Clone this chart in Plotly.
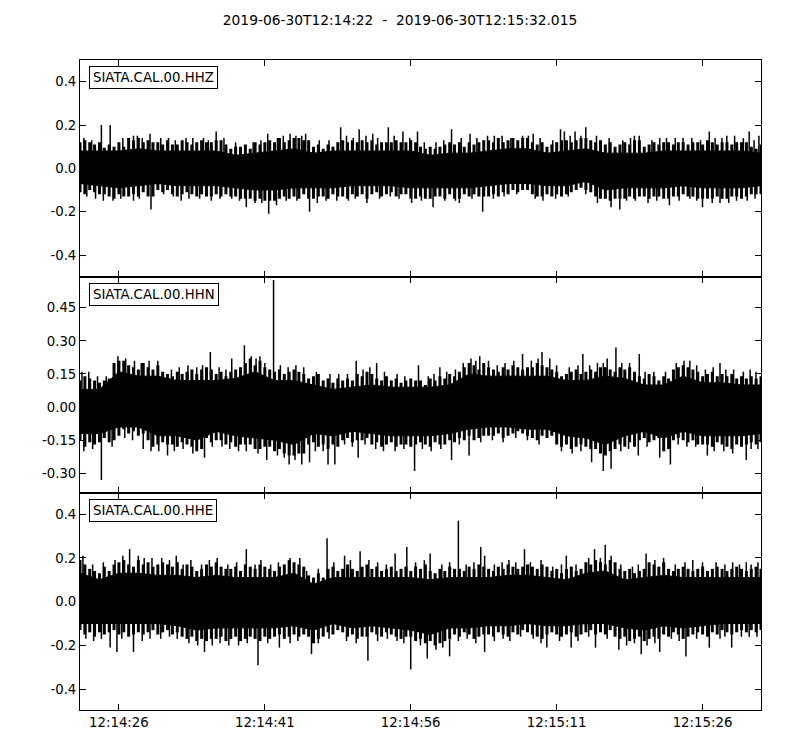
import numpy as np
import pandas as pd
import plotly.graph_objects as go
from plotly.subplots import make_subplots

start_time = "2019-06-30 12:14:22"
duration_s = 70.015
title_text = "2019-06-30T12:14:22  -  2019-06-30T12:15:32.015"
channels = ["SIATA.CAL.00.HHZ", "SIATA.CAL.00.HHN", "SIATA.CAL.00.HHE"]

# ---- solid core of the trace band, read every 2 s ----
hhz_core_hi = [0.08,0.08,0.08,0.09,0.08,0.08,0.08,0.08,0.06,0.07,0.08,0.09,0.07,0.08,0.08,0.08,0.08,0.08,
               0.06,0.07,0.07,0.08,0.09,0.09,0.07,0.08,0.09,0.07,0.07,0.07,0.08,0.08,0.08,0.08,0.08,0.07]
hhz_core_lo = [-0.07,-0.08,-0.09,-0.08,-0.07,-0.08,-0.08,-0.08,-0.09,-0.10,-0.10,-0.09,-0.09,-0.09,-0.08,-0.08,-0.08,-0.09,
               -0.09,-0.09,-0.09,-0.08,-0.07,-0.07,-0.08,-0.08,-0.06,-0.10,-0.09,-0.09,-0.09,-0.08,-0.09,-0.09,-0.09,-0.08]
hhn_core_hi = [0.08,0.08,0.16,0.14,0.14,0.12,0.12,0.12,0.13,0.16,0.12,0.12,0.10,0.08,0.09,0.10,0.09,0.09,
               0.09,0.10,0.15,0.14,0.14,0.14,0.14,0.12,0.12,0.14,0.13,0.10,0.10,0.14,0.11,0.11,0.10,0.10]
hhn_core_lo = [-0.12,-0.12,-0.09,-0.09,-0.13,-0.13,-0.15,-0.11,-0.13,-0.14,-0.15,-0.17,-0.12,-0.13,-0.11,-0.12,-0.13,-0.13,
               -0.13,-0.12,-0.10,-0.09,-0.09,-0.10,-0.10,-0.13,-0.14,-0.17,-0.13,-0.11,-0.14,-0.11,-0.13,-0.13,-0.13,-0.12]
hhe_core_hi = [0.13,0.10,0.13,0.13,0.12,0.12,0.11,0.12,0.11,0.11,0.11,0.13,0.08,0.11,0.11,0.11,0.11,0.11,
               0.10,0.11,0.11,0.11,0.12,0.12,0.11,0.10,0.13,0.14,0.10,0.11,0.12,0.11,0.11,0.11,0.11,0.11]
hhe_core_lo = [-0.10,-0.10,-0.10,-0.10,-0.10,-0.11,-0.13,-0.12,-0.12,-0.12,-0.12,-0.11,-0.13,-0.10,-0.12,-0.11,-0.12,-0.13,
               -0.15,-0.12,-0.12,-0.11,-0.11,-0.10,-0.11,-0.11,-0.10,-0.10,-0.12,-0.13,-0.11,-0.12,-0.11,-0.10,-0.10,-0.10]

# ---- outer edge of the dense spiking, read every ~0.5 s ----
hhz_upper = [0.12,0.13,0.12,0.11,0.12,0.095,0.11,0.10,0.12,0.10,
             0.14,0.13,0.14,0.12,0.13,0.12,0.12,0.11,0.13,0.11,
             0.11,0.13,0.12,0.11,0.12,0.13,0.12,0.12,0.13,0.13,
             0.11,0.09,0.10,0.10,0.11,0.09,0.12,0.11,0.12,0.13,
             0.12,0.14,0.12,0.13,0.14,0.14,0.13,
             0.13,0.10,0.11,0.09,0.11,0.10,0.12,0.13,0.12,0.13,
             0.12,0.13,0.12,0.13,0.11,0.12,0.12,0.12,0.13,0.12,
             0.12,0.13,0.12,0.10,0.09,0.10,0.09,0.10,0.11,0.12,
             0.11,0.12,0.10,0.12,0.11,0.12,0.13,0.13,0.12,0.14,
             0.12,0.13,0.14,0.13,0.14,0.14,
             0.12,0.11,0.12,0.10,0.11,0.12,0.13,0.13,0.12,0.13,
             0.14,0.14,0.13,0.12,0.13,0.11,0.12,0.10,0.11,0.12,
             0.11,0.13,0.13,0.10,0.11,0.12,0.11,0.12,0.12,0.11,
             0.12,0.12,0.11,0.12,0.12,0.11,0.13,0.12,0.11,0.12,
             0.12,0.11,0.12,0.12,0.12,0.10,0.09,0.11]
hhz_lower = [-0.11,-0.12,-0.10,-0.11,-0.12,-0.12,-0.13,-0.14,-0.12,-0.13,
             -0.13,-0.12,-0.13,-0.11,-0.13,-0.13,-0.10,-0.11,-0.10,-0.12,
             -0.13,-0.12,-0.11,-0.12,-0.13,-0.12,-0.13,-0.13,-0.12,-0.13,
             -0.12,-0.13,-0.13,-0.14,-0.14,-0.14,-0.15,-0.14,-0.15,-0.15,
             -0.15,-0.14,-0.13,-0.14,-0.13,-0.14,-0.12,
             -0.14,-0.14,-0.13,-0.13,-0.14,-0.12,-0.13,-0.13,-0.14,-0.12,
             -0.13,-0.12,-0.14,-0.12,-0.11,-0.13,-0.12,-0.11,-0.13,-0.12,
             -0.12,-0.14,-0.14,-0.13,-0.14,-0.14,-0.13,-0.13,-0.14,-0.12,
             -0.14,-0.14,-0.12,-0.13,-0.12,-0.13,-0.13,-0.13,-0.12,-0.13,
             -0.11,-0.12,-0.10,-0.11,-0.10,-0.10,
             -0.12,-0.13,-0.13,-0.12,-0.13,-0.12,-0.13,-0.12,-0.11,-0.10,
             -0.09,-0.10,-0.11,-0.13,-0.14,-0.14,-0.15,-0.14,-0.14,-0.14,
             -0.13,-0.14,-0.13,-0.13,-0.14,-0.13,-0.13,-0.14,-0.14,-0.13,
             -0.13,-0.12,-0.13,-0.13,-0.14,-0.14,-0.14,-0.14,-0.13,-0.14,
             -0.14,-0.13,-0.13,-0.14,-0.13,-0.12,-0.12,-0.12]

hhn_upper = [0.12,0.14,0.13,0.12,0.11,0.12,0.13,0.20,0.21,0.21,
             0.19,0.18,0.17,0.20,0.18,0.17,0.19,0.16,0.15,0.14,
             0.16,0.15,0.16,0.17,0.15,0.17,0.18,0.17,0.15,0.16,
             0.14,0.16,0.17,0.18,0.20,0.22,0.19,0.21,0.18,0.17,
             0.16,0.17,0.15,0.16,0.17,0.16,0.15,
             0.13,0.14,0.15,0.12,0.13,0.11,0.13,0.12,0.13,0.12,
             0.15,0.14,0.16,0.15,0.13,0.12,0.14,0.12,0.13,0.11,
             0.12,0.13,0.12,0.12,0.10,0.13,0.12,0.14,0.13,0.15,
             0.14,0.16,0.18,0.20,0.19,0.17,0.20,0.18,0.17,0.16,
             0.18,0.17,0.19,0.18,0.17,0.18,
             0.18,0.20,0.19,0.18,0.17,0.16,0.14,0.15,0.16,0.17,
             0.15,0.16,0.17,0.16,0.18,0.18,0.17,0.16,0.18,0.17,
             0.18,0.16,0.14,0.13,0.15,0.14,0.12,0.14,0.13,0.17,
             0.18,0.19,0.18,0.17,0.16,0.14,0.15,0.16,0.14,0.15,
             0.14,0.15,0.13,0.14,0.13,0.14,0.13,0.14]
hhn_lower = [-0.15,-0.18,-0.16,-0.17,-0.16,-0.14,-0.16,-0.15,-0.13,-0.10,
             -0.12,-0.11,-0.13,-0.12,-0.15,-0.18,-0.17,-0.16,-0.17,-0.17,
             -0.18,-0.16,-0.17,-0.18,-0.20,-0.19,-0.14,-0.16,-0.15,-0.15,
             -0.17,-0.16,-0.18,-0.17,-0.17,-0.17,-0.19,-0.19,-0.18,-0.18,
             -0.20,-0.19,-0.21,-0.22,-0.22,-0.21,-0.21,
             -0.17,-0.16,-0.18,-0.17,-0.19,-0.17,-0.18,-0.15,-0.14,-0.16,
             -0.15,-0.15,-0.14,-0.17,-0.16,-0.18,-0.17,-0.16,-0.18,-0.17,
             -0.17,-0.18,-0.17,-0.16,-0.17,-0.18,-0.16,-0.17,-0.17,-0.15,
             -0.16,-0.14,-0.15,-0.13,-0.15,-0.14,-0.13,-0.13,-0.13,-0.12,
             -0.14,-0.13,-0.12,-0.11,-0.12,-0.13,
             -0.14,-0.15,-0.13,-0.14,-0.13,-0.17,-0.18,-0.17,-0.19,-0.18,
             -0.17,-0.18,-0.19,-0.19,-0.21,-0.22,-0.20,-0.19,-0.17,-0.18,
             -0.16,-0.18,-0.15,-0.14,-0.16,-0.15,-0.14,-0.20,-0.19,-0.15,
             -0.14,-0.15,-0.16,-0.15,-0.17,-0.17,-0.17,-0.18,-0.16,-0.17,
             -0.18,-0.19,-0.17,-0.18,-0.17,-0.16,-0.17,-0.16]

hhe_upper = [0.19,0.17,0.15,0.14,0.13,0.16,0.14,0.17,0.18,0.19,
             0.17,0.16,0.19,0.17,0.18,0.16,0.17,0.18,0.17,0.16,
             0.18,0.15,0.17,0.16,0.14,0.15,0.17,0.16,0.18,0.16,
             0.15,0.15,0.16,0.14,0.17,0.16,0.15,0.17,0.16,0.15,
             0.14,0.16,0.17,0.19,0.18,0.17,0.16,
             0.12,0.11,0.13,0.11,0.15,0.16,0.14,0.15,0.17,0.15,
             0.14,0.16,0.17,0.15,0.16,0.14,0.15,0.16,0.14,0.15,
             0.16,0.14,0.16,0.15,0.17,0.14,0.13,0.15,0.14,0.16,
             0.15,0.15,0.14,0.16,0.15,0.17,0.16,0.15,0.14,0.16,
             0.15,0.17,0.16,0.15,0.16,0.17,
             0.16,0.15,0.17,0.16,0.14,0.15,0.13,0.15,0.16,0.14,
             0.15,0.18,0.17,0.19,0.18,0.17,0.19,0.18,0.15,0.14,
             0.15,0.13,0.14,0.15,0.18,0.17,0.16,0.18,0.15,0.14,
             0.15,0.16,0.15,0.14,0.15,0.16,0.14,0.15,0.16,0.15,
             0.14,0.15,0.16,0.15,0.14,0.15,0.16,0.15]
hhe_lower = [-0.13,-0.15,-0.14,-0.16,-0.14,-0.15,-0.14,-0.13,-0.15,-0.14,
             -0.16,-0.15,-0.14,-0.15,-0.14,-0.13,-0.15,-0.14,-0.13,-0.15,
             -0.14,-0.16,-0.17,-0.16,-0.18,-0.17,-0.18,-0.17,-0.17,-0.16,
             -0.18,-0.17,-0.16,-0.18,-0.17,-0.16,-0.17,-0.18,-0.16,-0.17,
             -0.16,-0.15,-0.17,-0.16,-0.15,-0.16,-0.15,
             -0.16,-0.19,-0.17,-0.16,-0.14,-0.15,-0.13,-0.14,-0.16,-0.15,
             -0.17,-0.16,-0.16,-0.14,-0.15,-0.16,-0.14,-0.15,-0.16,-0.17,
             -0.16,-0.16,-0.18,-0.17,-0.19,-0.18,-0.20,-0.19,-0.18,-0.17,
             -0.15,-0.16,-0.14,-0.15,-0.17,-0.16,-0.15,-0.15,-0.16,-0.14,
             -0.15,-0.16,-0.14,-0.15,-0.13,-0.14,
             -0.15,-0.16,-0.17,-0.15,-0.14,-0.15,-0.16,-0.15,-0.14,-0.16,
             -0.15,-0.14,-0.13,-0.15,-0.14,-0.15,-0.13,-0.16,-0.17,-0.16,
             -0.18,-0.17,-0.16,-0.18,-0.17,-0.16,-0.17,-0.15,-0.16,-0.14,
             -0.15,-0.17,-0.16,-0.15,-0.14,-0.15,-0.16,-0.14,-0.15,-0.13,
             -0.14,-0.15,-0.14,-0.13,-0.14,-0.13,-0.14,-0.13]

# ---- prominent individual spikes: seconds after start, amplitude ----
hhz_up_t = [2.2, 3.1, 5.5, 7.2, 10.9, 12.7, 14.0, 19.3, 21.6, 22.8, 26.8, 28.7, 30.1, 31.7, 33.2, 34.7,
            38.2, 40.1, 41.9, 45.5, 46.6, 49.4, 49.8, 50.9, 52.0, 57.5, 60.3, 62.0, 64.7, 66.5, 68.8, 69.8]
hhz_up_v = [0.20, 0.20, 0.15, 0.16, 0.14, 0.14, 0.17, 0.16, 0.16, 0.15, 0.19, 0.18, 0.16, 0.19, 0.17, 0.17,
            0.18, 0.16, 0.15, 0.15, 0.16, 0.18, 0.17, 0.17, 0.19, 0.15, 0.14, 0.14, 0.17, 0.15, 0.17, 0.15]
hhz_dn_t = [2.4, 5.5, 7.3, 10.4, 13.5, 17.1, 19.4, 20.2, 23.6, 27.6, 29.5, 34.1, 36.3, 39.0, 41.4,
            47.6, 53.2, 54.6, 55.5, 60.6, 64.0, 65.8, 68.6]
hhz_dn_v = [-0.15, -0.15, -0.19, -0.15, -0.15, -0.18, -0.21, -0.17, -0.20, -0.15, -0.16, -0.16, -0.18, -0.16, -0.20,
            -0.15, -0.16, -0.18, -0.19, -0.17, -0.18, -0.16, -0.15]

hhn_up_t = [0.2, 0.9, 3.9, 13.4, 15.6, 16.9, 18.5, 19.9, 28.4, 30.5, 34.8, 37.0, 40.2, 41.1, 45.5,
            47.5, 48.3, 51.7, 54.2, 55.1, 57.5, 62.7, 65.8, 68.9]
hhn_up_v = [0.16, 0.16, 0.23, 0.25, 0.22, 0.28, 0.23, 0.576, 0.21, 0.20, 0.19, 0.18, 0.22, 0.23, 0.24,
            0.25, 0.22, 0.24, 0.22, 0.27, 0.24, 0.21, 0.20, 0.17]
hhn_dn_t = [2.2, 6.5, 9.0, 12.8, 19.2, 21.5, 22.8, 23.6, 25.5, 26.2, 28.6, 34.4, 38.2, 40.0,
            52.6, 53.8, 54.6, 57.4, 59.6, 60.7, 64.5, 68.5]
hhn_dn_v = [-0.33, -0.19, -0.22, -0.23, -0.24, -0.26, -0.26, -0.25, -0.26, -0.26, -0.23, -0.29, -0.24, -0.22,
            -0.25, -0.29, -0.28, -0.22, -0.23, -0.26, -0.22, -0.24]

hhe_up_t = [5.1, 6.0, 9.9, 17.1, 21.6, 22.6, 25.4, 27.2, 28.8, 32.4, 33.6, 36.0, 38.9, 41.2, 41.6,
            45.7, 50.0, 52.9, 54.0, 58.2, 63.0, 67.1, 68.5]
hhe_up_v = [0.24, 0.21, 0.21, 0.24, 0.20, 0.20, 0.29, 0.21, 0.23, 0.22, 0.25, 0.22, 0.37, 0.25, 0.21,
            0.24, 0.21, 0.24, 0.26, 0.22, 0.19, 0.18, 0.18]
hhe_dn_t = [3.1, 3.8, 5.5, 12.8, 18.3, 20.5, 23.8, 29.6, 34.0, 35.7, 38.0, 41.6, 48.0, 50.5, 53.0,
            55.4, 57.7, 59.6, 62.3, 64.7, 67.0]
hhe_dn_v = [-0.21, -0.23, -0.23, -0.23, -0.29, -0.21, -0.24, -0.27, -0.31, -0.26, -0.25, -0.23, -0.21, -0.21, -0.21,
            -0.22, -0.24, -0.23, -0.25, -0.21, -0.21]

# ---- smaller fringe spikes along the band edges ----
hhz_fu_t = [0.4, 1.2, 4.4, 5.9, 6.4, 8.3, 9.1, 9.8, 11.6, 13.2, 14.8, 16.0, 17.8, 18.6, 20.3, 20.9, 22.2, 23.2,
            24.6, 25.6, 27.4, 28.1, 29.4, 30.6, 32.3, 33.9, 35.4, 36.6, 37.4, 39.2, 40.8, 42.6, 43.4, 44.3,
            46.1, 47.3, 48.6, 50.4, 51.5, 53.1, 54.4, 55.8, 56.6, 57.0, 58.8, 59.6, 61.2, 62.9, 63.8, 65.3,
            66.0, 67.3, 68.2, 69.3]
hhz_fu_v = [0.14, 0.13, 0.14, 0.15, 0.14, 0.14, 0.14, 0.13, 0.14, 0.13, 0.14, 0.12, 0.12, 0.13, 0.14, 0.15, 0.15, 0.16,
            0.13, 0.13, 0.15, 0.14, 0.15, 0.14, 0.15, 0.14, 0.12, 0.12, 0.13, 0.14, 0.14, 0.15, 0.15, 0.14,
            0.15, 0.14, 0.13, 0.15, 0.15, 0.15, 0.14, 0.13, 0.14, 0.15, 0.13, 0.14, 0.14, 0.14, 0.13, 0.14,
            0.14, 0.15, 0.14, 0.13]
hhz_fd_t = [0.7, 1.6, 3.4, 4.2, 6.1, 8.6, 9.6, 11.2, 12.3, 14.4, 15.6, 16.4, 18.0, 18.7, 21.2, 22.3, 24.4, 25.3,
            26.4, 28.3, 30.8, 31.9, 32.8, 35.1, 37.5, 38.6, 40.3, 42.5, 43.6, 44.9, 46.8, 48.9, 50.2, 52.0,
            56.2, 57.1, 58.4, 59.3, 61.6, 62.7, 63.4, 65.0, 66.7, 67.5, 69.4]
hhz_fd_v = [-0.13, -0.14, -0.15, -0.14, -0.14, -0.12, -0.13, -0.14, -0.14, -0.14, -0.14, -0.15, -0.16, -0.16, -0.15,
            -0.15, -0.16, -0.15, -0.15, -0.14, -0.14, -0.13, -0.14, -0.15, -0.15, -0.15, -0.14, -0.14, -0.13, -0.12,
            -0.14, -0.14, -0.13, -0.12, -0.15, -0.15, -0.16, -0.15, -0.15, -0.14, -0.15, -0.16, -0.16, -0.15, -0.14]

hhn_fu_t = [1.8, 2.7, 4.7, 5.6, 6.3, 7.1, 8.0, 9.4, 10.2, 11.1, 12.0, 12.6, 14.3, 15.0, 17.6, 18.1, 19.0, 20.6,
            21.4, 22.2, 23.0, 24.3, 25.7, 26.6, 27.5, 29.1, 29.8, 31.3, 32.6, 33.4, 35.8, 36.4, 37.7, 38.6,
            39.4, 40.7, 42.0, 42.9, 43.7, 44.6, 46.4, 47.1, 49.0, 50.3, 51.2, 52.4, 53.2, 53.8, 55.7, 56.5,
            58.1, 59.0, 60.2, 61.3, 62.1, 63.4, 64.3, 65.1, 66.4, 67.2, 68.2, 69.5]
hhn_fu_v = [0.14, 0.14, 0.22, 0.21, 0.20, 0.21, 0.21, 0.17, 0.18, 0.19, 0.18, 0.19, 0.18, 0.17, 0.23, 0.22, 0.20, 0.19,
            0.18, 0.19, 0.18, 0.16, 0.15, 0.15, 0.15, 0.17, 0.18, 0.16, 0.15, 0.14, 0.14, 0.15, 0.16, 0.17,
            0.20, 0.21, 0.21, 0.19, 0.20, 0.21, 0.21, 0.22, 0.19, 0.18, 0.19, 0.19, 0.20, 0.20, 0.20, 0.20,
            0.16, 0.16, 0.16, 0.20, 0.21, 0.19, 0.17, 0.18, 0.17, 0.17, 0.16, 0.16]
hhn_fd_t = [0.4, 1.3, 3.3, 4.6, 5.4, 7.3, 8.1, 9.7, 10.6, 11.6, 13.6, 14.6, 15.4, 16.3, 17.1, 18.3, 20.3, 21.0,
            22.1, 24.2, 25.0, 27.2, 28.0, 29.3, 30.4, 31.2, 32.4, 33.3, 35.2, 36.1, 37.1, 39.0, 41.2, 42.4,
            43.5, 44.8, 46.0, 47.2, 49.5, 50.6, 51.5, 55.6, 56.4, 58.3, 61.5, 62.4, 63.3, 65.2, 66.2, 67.1,
            69.0, 69.7]
hhn_fd_v = [-0.20, -0.19, -0.18, -0.14, -0.15, -0.20, -0.20, -0.20, -0.19, -0.21, -0.18, -0.18, -0.19, -0.20, -0.20,
            -0.21, -0.22, -0.23, -0.24, -0.20, -0.20, -0.17, -0.18, -0.17, -0.19, -0.20, -0.20, -0.19, -0.19, -0.20,
            -0.19, -0.17, -0.16, -0.15, -0.16, -0.14, -0.15, -0.17, -0.20, -0.21, -0.20, -0.20, -0.19, -0.18, -0.17,
            -0.18, -0.18, -0.20, -0.20, -0.21, -0.19, -0.19]

hhe_fu_t = [0.3, 1.3, 2.4, 3.6, 4.4, 6.6, 7.4, 8.4, 9.2, 10.6, 11.4, 12.5, 13.3, 14.1, 15.2, 16.1, 18.0, 18.6,
            19.6, 20.4, 23.3, 24.5, 26.1, 27.8, 29.7, 30.6, 31.5, 34.5, 35.4, 37.2, 38.0, 39.7, 40.5, 42.6,
            43.4, 44.1, 44.8, 46.3, 47.4, 48.6, 49.5, 51.0, 52.3, 53.5, 54.6, 55.6, 56.8, 57.4, 59.1, 60.0,
            61.2, 62.2, 64.0, 65.4, 66.3, 67.8, 69.0, 69.7]
hhe_fu_v = [0.21, 0.17, 0.18, 0.19, 0.21, 0.20, 0.20, 0.20, 0.19, 0.17, 0.19, 0.17, 0.19, 0.20, 0.17, 0.18, 0.17, 0.19,
            0.17, 0.18, 0.14, 0.15, 0.18, 0.19, 0.19, 0.18, 0.17, 0.18, 0.19, 0.17, 0.18, 0.17, 0.18, 0.17,
            0.18, 0.19, 0.18, 0.18, 0.19, 0.16, 0.17, 0.17, 0.20, 0.20, 0.21, 0.17, 0.16, 0.17, 0.19, 0.20,
            0.17, 0.18, 0.18, 0.18, 0.17, 0.17, 0.17, 0.18]
hhe_fd_t = [0.6, 1.4, 2.2, 4.3, 6.4, 7.2, 8.3, 9.2, 10.0, 11.2, 12.1, 13.6, 14.4, 15.3, 16.3, 17.2, 19.3, 21.6,
            22.4, 24.5, 25.6, 27.4, 28.4, 30.6, 31.6, 32.6, 33.3, 35.0, 36.6, 37.3, 38.9, 39.8, 40.7, 42.6,
            43.5, 44.2, 45.3, 46.6, 47.4, 49.3, 51.2, 52.3, 54.2, 56.2, 57.0, 58.3, 59.1, 60.8, 61.6, 63.4,
            65.8, 66.3, 68.0, 68.8, 69.6]
hhe_fd_v = [-0.17, -0.18, -0.17, -0.17, -0.18, -0.17, -0.17, -0.16, -0.17, -0.19, -0.20, -0.20, -0.19, -0.20, -0.20,
            -0.19, -0.19, -0.19, -0.18, -0.19, -0.17, -0.18, -0.19, -0.18, -0.17, -0.18, -0.19, -0.20, -0.22, -0.21,
            -0.18, -0.17, -0.19, -0.18, -0.17, -0.18, -0.16, -0.17, -0.19, -0.18, -0.18, -0.16, -0.17, -0.20, -0.19,
            -0.20, -0.19, -0.17, -0.18, -0.17, -0.17, -0.16, -0.16, -0.16, -0.16]

y_ranges = [[-0.5, 0.5], [-0.391, 0.591], [-0.495, 0.495]]
y_ticks = [[-0.4, -0.2, 0.0, 0.2, 0.4],
           [-0.30, -0.15, 0.00, 0.15, 0.30, 0.45],
           [-0.4, -0.2, 0.0, 0.2, 0.4]]
y_ticklabels = [["-0.4", "-0.2", "0.0", "0.2", "0.4"],
                ["-0.30", "-0.15", "0.00", "0.15", "0.30", "0.45"],
                ["-0.4", "-0.2", "0.0", "0.2", "0.4"]]

panels = [
    dict(core_hi=hhz_core_hi, core_lo=hhz_core_lo, up=hhz_upper, lo=hhz_lower,
         fringe_t=hhz_fu_t + hhz_fd_t, fringe_v=hhz_fu_v + hhz_fd_v,
         spike_t=hhz_up_t + hhz_dn_t, spike_v=hhz_up_v + hhz_dn_v),
    dict(core_hi=hhn_core_hi, core_lo=hhn_core_lo, up=hhn_upper, lo=hhn_lower,
         fringe_t=hhn_fu_t + hhn_fd_t, fringe_v=hhn_fu_v + hhn_fd_v,
         spike_t=hhn_up_t + hhn_dn_t, spike_v=hhn_up_v + hhn_dn_v),
    dict(core_hi=hhe_core_hi, core_lo=hhe_core_lo, up=hhe_upper, lo=hhe_lower,
         fringe_t=hhe_fu_t + hhe_fd_t, fringe_v=hhe_fu_v + hhe_fd_v,
         spike_t=hhe_up_t + hhe_dn_t, spike_v=hhe_up_v + hhe_dn_v),
]

t0 = pd.Timestamp(start_time)


def to_time(sec):
    return t0 + pd.to_timedelta(np.asarray(sec, dtype=float), unit="s")


def spike_xy(ts, vs):
    times = to_time(ts)
    sx, sy = [], []
    for tm, v in zip(times, vs):
        sx += [tm, tm, None]
        sy += [0.0, v, None]
    return sx, sy


fig = make_subplots(rows=3, cols=1, shared_xaxes=True, vertical_spacing=0)

for i, p in enumerate(panels):
    row = i + 1
    # solid core polygon
    tc_hi = to_time(np.linspace(0, duration_s, len(p["core_hi"])))
    tc_lo = to_time(np.linspace(0, duration_s, len(p["core_lo"])))
    fig.add_trace(go.Scatter(x=list(tc_hi) + list(tc_lo[::-1]),
                             y=list(p["core_hi"]) + list(p["core_lo"][::-1]),
                             mode="lines", fill="toself", fillcolor="black",
                             line=dict(color="black", width=1),
                             hoverinfo="skip", showlegend=False), row=row, col=1)
    # dense spiking out to the band edge
    te_up = np.linspace(0, duration_s, len(p["up"]))
    te_lo = np.linspace(0, duration_s, len(p["lo"]))
    ex, ey = spike_xy(list(te_up) + list(te_lo), list(p["up"]) + list(p["lo"]))
    fig.add_trace(go.Scatter(x=ex, y=ey, mode="lines",
                             line=dict(color="black", width=3),
                             hoverinfo="skip", showlegend=False), row=row, col=1)
    fx, fy = spike_xy(p["fringe_t"], p["fringe_v"])
    fig.add_trace(go.Scatter(x=fx, y=fy, mode="lines",
                             line=dict(color="black", width=1.5),
                             hoverinfo="skip", showlegend=False), row=row, col=1)
    sx, sy = spike_xy(p["spike_t"], p["spike_v"])
    fig.add_trace(go.Scatter(x=sx, y=sy, mode="lines",
                             line=dict(color="black", width=1.5),
                             hoverinfo="skip", showlegend=False), row=row, col=1)

font_family = "DejaVu Sans"
axis_common = dict(showline=True, linecolor="black", linewidth=1, mirror="ticks",
                   ticks="inside", ticklen=6, tickcolor="black", showgrid=False,
                   zeroline=False, tickfont=dict(family=font_family, size=13.3, color="black"))

for i in range(3):
    row = i + 1
    fig.update_yaxes(range=y_ranges[i], tickvals=y_ticks[i], ticktext=y_ticklabels[i],
                     row=row, col=1, **axis_common)
    fig.update_xaxes(type="date",
                     range=[t0, to_time([duration_s])[0]],
                     tick0="2019-06-30 12:14:26", dtick=15000,
                     tickformat="%H:%M:%S",
                     showticklabels=(row == 3),
                     row=row, col=1, **axis_common)

for i, name in enumerate(channels):
    sfx = "" if i == 0 else str(i + 1)
    fig.add_annotation(text=name, xref=f"x{sfx} domain", yref=f"y{sfx} domain",
                       x=0.013, y=0.972, xanchor="left", yanchor="top", showarrow=False,
                       font=dict(family=font_family, size=13.3, color="black"),
                       bgcolor="white", bordercolor="black", borderwidth=1, borderpad=3)

# the page body adds an 8 px offset; the figure is sized so the plot lands where the reference has it
fig.update_layout(
    width=792, height=742,
    margin=dict(l=72, r=39, t=52, b=40),
    paper_bgcolor="white", plot_bgcolor="white",
    title=dict(text=title_text, xref="container", x=392 / 792, xanchor="center",
               yref="container", y=1 - 12 / 742, yanchor="middle",
               font=dict(family=font_family, size=13.8, color="black")),
    font=dict(family=font_family, color="black"),
)

fig.write_html("out.html")
